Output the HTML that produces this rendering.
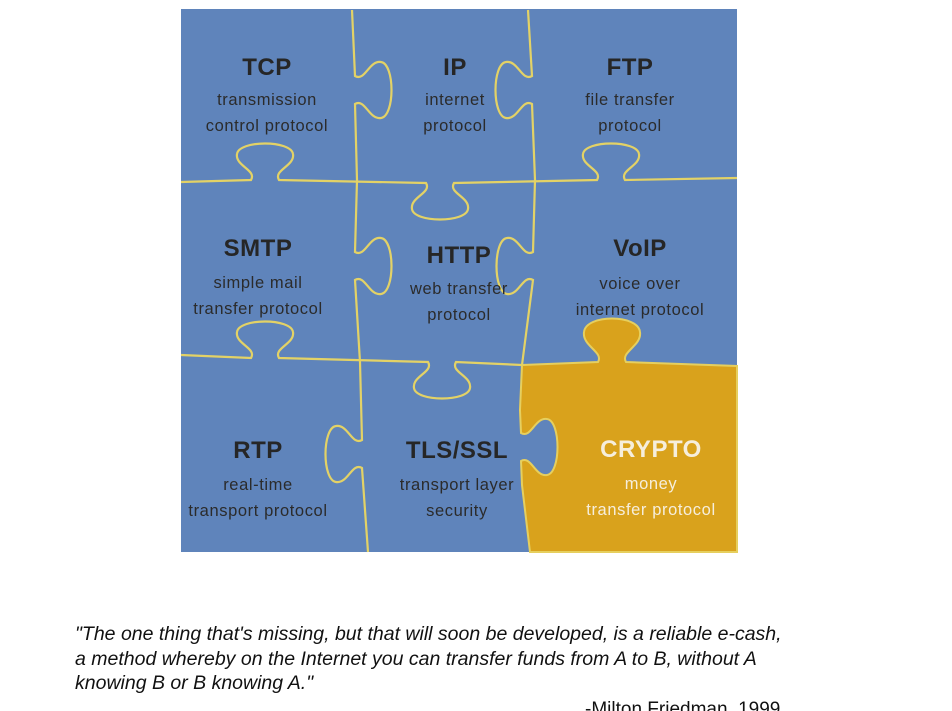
<!DOCTYPE html>
<html><head><style>
html,body{margin:0;padding:0;background:#fff;width:952px;height:711px;overflow:hidden}
svg{display:block}
.t{font-family:"Liberation Sans",sans-serif;font-weight:bold;font-size:24px;fill:#262626;text-anchor:middle;letter-spacing:0.5px}
.s{font-family:"Liberation Sans",sans-serif;font-size:16.5px;fill:#2b2b2b;text-anchor:middle;letter-spacing:0.6px}
.q{font-family:"Liberation Sans",sans-serif;font-style:italic;font-size:19.5px;fill:#111}
</style></head><body>
<svg width="952" height="711" viewBox="0 0 952 711">
<rect x="181" y="9" width="556" height="543" fill="#5f84bb"/>
<path d="M522 365 L598 362 C604 352 582 346 584 332 C586 314 638 314 640 332 C642 346 620 352 626 362 L737 366 L737 552 L530 552 L522 485 L521 461 C531 455 535 477 547 475 C561 473 561 421 547 419 C535 417 531 439 521 433 L520 410 Z" fill="#d9a21c" stroke="#e6cf5e" stroke-width="2"/>
<g fill="none" stroke="#e3d266" stroke-width="2.2">
<path d="M181 182 L251 180 C257 170 235 166 237 154 C239 140 291 140 293 154 C295 166 273 170 279 180 L426 183 C432 193 410 197 412 209 C414 223 466 223 468 209 C470 197 448 193 454 183 L597 180 C603 170 581 166 583 154 C585 140 637 140 639 154 C641 166 619 170 625 180 L737 178"/>
<path d="M181 355 L251 358 C257 348 235 344 237 332 C239 318 291 318 293 332 C295 344 273 348 279 358 L428 362 C434 372 412 376 414 388 C416 402 468 402 470 388 C472 376 450 372 456 362 L522 365"/>
<path d="M352 10 L355 76 C365 82 369 60 381 62 C395 64 395 116 381 118 C369 120 365 98 355 104 L357 180 L355 252 C365 258 369 236 381 238 C395 240 395 292 381 294 C369 296 365 274 355 280 L360 362 L362 440 C352 446 348 424 336 426 C322 428 322 480 336 482 C348 484 352 462 362 468 L368 552"/>
<path d="M528 10 L532 76 C522 82 518 60 506 62 C492 64 492 116 506 118 C518 120 522 98 532 104 L535 180 L533 252 C523 258 519 236 507 238 C493 240 493 292 507 294 C519 296 523 274 533 280 L522 365"/>
</g>
<text class="t" x="267" y="75">TCP</text>
<text class="s" x="267" y="105">transmission</text>
<text class="s" x="267" y="131">control protocol</text>
<text class="t" x="455" y="75">IP</text>
<text class="s" x="455" y="105">internet</text>
<text class="s" x="455" y="131">protocol</text>
<text class="t" x="630" y="75">FTP</text>
<text class="s" x="630" y="105">file transfer</text>
<text class="s" x="630" y="131">protocol</text>
<text class="t" x="258" y="256">SMTP</text>
<text class="s" x="258" y="288">simple mail</text>
<text class="s" x="258" y="314">transfer protocol</text>
<text class="t" x="459" y="263">HTTP</text>
<text class="s" x="459" y="294">web transfer</text>
<text class="s" x="459" y="320">protocol</text>
<text class="t" x="640" y="256">VoIP</text>
<text class="s" x="640" y="289">voice over</text>
<text class="s" x="640" y="315">internet protocol</text>
<text class="t" x="258" y="458">RTP</text>
<text class="s" x="258" y="490">real-time</text>
<text class="s" x="258" y="516">transport protocol</text>
<text class="t" x="457" y="458">TLS/SSL</text>
<text class="s" x="457" y="490">transport layer</text>
<text class="s" x="457" y="516">security</text>
<text class="t" x="651" y="457" style="fill:#f6eedc">CRYPTO</text>
<text class="s" x="651" y="489" style="fill:#f6eedc">money</text>
<text class="s" x="651" y="515" style="fill:#f6eedc">transfer protocol</text>
<text class="q" x="75" y="640">"The one thing that's missing, but that will soon be developed, is a reliable e-cash,</text>
<text class="q" x="75" y="665">a method whereby on the Internet you can transfer funds from A to B, without A</text>
<text class="q" x="75" y="689">knowing B or B knowing A."</text>
<text x="585" y="715" style="font-family:'Liberation Sans',sans-serif;font-size:19px;fill:#111">-Milton Friedman, 1999</text>
</svg>
</body></html>
